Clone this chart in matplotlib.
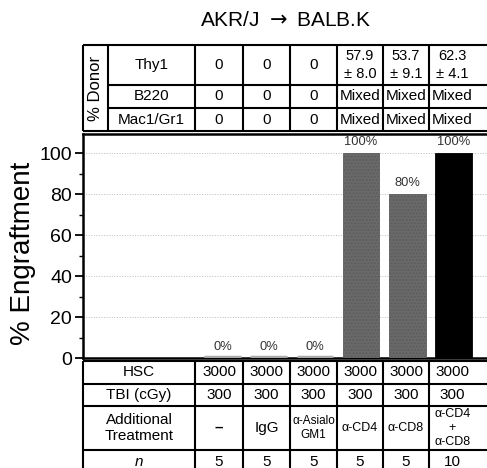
import matplotlib.pyplot as plt
import numpy as np

plt.rcParams['font.family'] = ['Liberation Sans', 'DejaVu Sans']

# data
engraftment = [0, 0, 0, 100, 80, 100]
bar_labels = ['0%', '0%', '0%', '100%', '80%', '100%']
donor_rows = ['Thy1', 'B220', 'Mac1/Gr1']
thy1 = ['0', '0', '0', '57.9\n± 8.0', '53.7\n± 9.1', '62.3\n± 4.1']
b220 = ['0', '0', '0', 'Mixed', 'Mixed', 'Mixed']
mac1_gr1 = ['0', '0', '0', 'Mixed', 'Mixed', 'Mixed']
bottom_rows = ['HSC', 'TBI (cGy)', 'Additional\nTreatment', 'n']
hsc = ['3000', '3000', '3000', '3000', '3000', '3000']
tbi = ['300', '300', '300', '300', '300', '300']
treatment = ['–', 'IgG', 'α-Asialo\nGM1', 'α-CD4', 'α-CD8', 'α-CD4\n+\nα-CD8']
n_mice = ['5', '5', '5', '5', '5', '10']

# layout in pixels
W, H = 487, 468
left = 83
col_edges = [195, 243, 290, 337, 383, 429, 476]
col_mid = [(a + b) / 2 for a, b in zip(col_edges[:-1], col_edges[1:])]
top_rows = [45, 85, 108, 131]
bot_rows = [361, 384, 406, 450, 474]
y0_px, px_per_unit, ax_top = 358.3, 2.05, 134
bar_c0, bar_step = 219.5, 45

fig = plt.figure(figsize=(W / 100, H / 100), dpi=100)

# bar axes
ax = fig.add_axes([left / W, (H - y0_px) / H, 1 - left / W + 0.02, (y0_px - ax_top) / H])
x = np.arange(len(engraftment))
colors = ['#aaaaaa', '#aaaaaa', '#aaaaaa', '#6a6a6a', '#6a6a6a', '#000000']
for xi, v, c, lab in zip(x, engraftment, colors, bar_labels):
    if v == 0:
        ax.bar(xi, v, width=0.8, bottom=0.8, color=c, edgecolor=c, linewidth=2.5, zorder=3)
    else:
        ax.bar(xi, v, width=0.8, color=c, edgecolor='#5c5c5c' if c != '#000000' else c,
               hatch='.....' if c != '#000000' else None, linewidth=0.6, zorder=3)
    ax.annotate(lab, (xi, v), xytext=(0, 4), textcoords='offset points',
                ha='center', va='bottom', fontsize=9.3, color='#333333')

ax.set_xlim((left - bar_c0) / bar_step, (W - bar_c0) / bar_step)
ax.set_ylim(0, (y0_px - ax_top) / px_per_unit)
ax.set_xticks([])
ax.set_yticks(np.arange(0, 101, 20))
ax.set_yticks(np.arange(10, 100, 20), minor=True)
ax.tick_params(axis='y', which='major', labelsize=14, length=6, width=1.3, pad=2)
ax.tick_params(axis='y', which='minor', length=3, width=1)
ax.yaxis.grid(True, linestyle=':', color='#bbbbbb', linewidth=0.7, zorder=0)
ax.set_axisbelow(True)
for side in ['left', 'bottom', 'top']:
    ax.spines[side].set_linewidth(1.8)
ax.spines['right'].set_visible(False)

# canvas for tables and text
cv = fig.add_axes([0, 0, 1, 1], facecolor='none')
cv.set_xlim(0, W)
cv.set_ylim(H, 0)
cv.axis('off')

lw = 1.5
# top table
cv.hlines([top_rows[0], top_rows[-1]], left, W, color='k', lw=lw)
cv.hlines(top_rows[1:-1], 108, W, color='k', lw=lw)
cv.vlines([left, 108] + col_edges[:-1], top_rows[0], top_rows[-1], color='k', lw=lw)
cv.text(95, (top_rows[0] + top_rows[-1]) / 2, '% Donor', rotation=90,
        ha='center', va='center', fontsize=12)
for r, (name, vals) in enumerate(zip(donor_rows, [thy1, b220, mac1_gr1])):
    yc = (top_rows[r] + top_rows[r + 1]) / 2
    cv.text((108 + col_edges[0]) / 2, yc, name, ha='center', va='center', fontsize=11)
    for xc, v in zip(col_mid, vals):
        cv.text(xc, yc, v, ha='center', va='center', fontsize=10.5 if '\n' in v else 11,
                linespacing=1.3)

# bottom table
cv.hlines(bot_rows[:-1], left, W, color='k', lw=lw)
cv.vlines([left] + col_edges[:-1], bot_rows[0], H + 5, color='k', lw=lw)
for r, (name, vals) in enumerate(zip(bottom_rows, [hsc, tbi, treatment, n_mice])):
    yc = (bot_rows[r] + bot_rows[r + 1]) / 2
    cv.text((left + col_edges[0]) / 2, yc, name, ha='center', va='center', fontsize=11,
            style='italic' if name == 'n' else 'normal', linespacing=1.1)
    for xc, v in zip(col_mid, vals):
        fs = 11
        if v.startswith('α'):
            fs = 8.5 if 'Asialo' in v else 9
        cv.text(xc, yc, v, ha='center', va='center', fontsize=fs, linespacing=1.25,
                fontweight='bold' if v == '–' else 'normal')

fig.text(286 / W, 1 - 21 / H, r'AKR/J $\rightarrow$ BALB.K', ha='center', va='center',
         fontsize=15)
fig.text(23 / W, 1 - 253 / H, '% Engraftment', rotation=90, ha='center', va='center',
         fontsize=20)

fig.savefig('out.png', dpi=100)
